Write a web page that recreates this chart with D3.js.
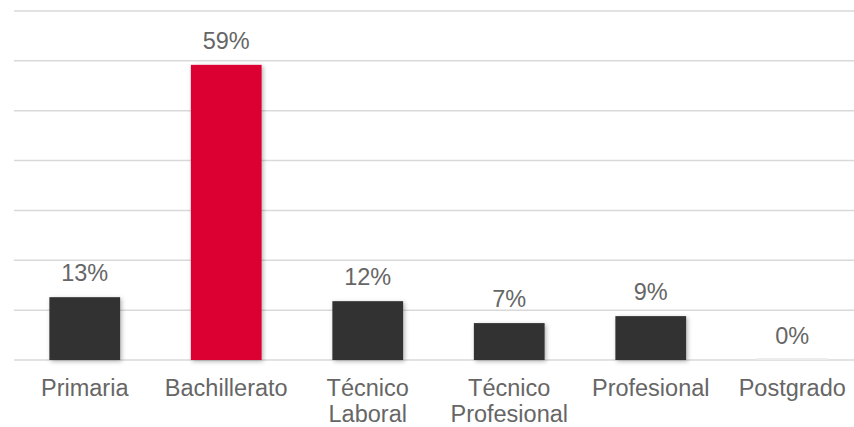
<!DOCTYPE html>
<html>
<head>
<meta charset="utf-8">
<script src="https://cdn.jsdelivr.net/npm/d3@7"></script>
<style>
  html, body { margin: 0; padding: 0; background: #fff; }
  svg { display: block; }
  text { font-family: "Liberation Sans", Arial, sans-serif; fill: #666666; }
</style>
</head>
<body>
<svg id="chart" width="854" height="427"></svg>
<script>
const categories = ["Primaria", "Bachillerato", "Técnico Laboral", "Técnico Profesional", "Profesional", "Postgrado"];
const categoryLines = [["Primaria"], ["Bachillerato"], ["Técnico", "Laboral"], ["Técnico", "Profesional"], ["Profesional"], ["Postgrado"]];
const values = [12.6, 59.2, 11.8, 7.4, 8.8, 0];
const valueLabels = ["13%", "59%", "12%", "7%", "9%", "0%"];
const yTicks = [0, 10, 20, 30, 40, 50, 60, 70];
const highlight = "Bachillerato";

const svg = d3.select("#chart");
const W = 854, H = 427;

const defs = svg.append("defs");
const f = defs.append("filter").attr("id", "shadow").attr("x", "-20%").attr("y", "-20%").attr("width", "150%").attr("height", "150%");
f.append("feDropShadow").attr("dx", 1.5).attr("dy", 1.5).attr("stdDeviation", 2).attr("flood-color", "#000").attr("flood-opacity", 0.3);

const x = d3.scaleBand().domain(categories).range([14, 863]).paddingInner(0.5).paddingOuter(0.25);
const y = d3.scaleLinear().domain([0, 70]).range([360, 11]);

// gridlines
svg.append("g").selectAll("line").data(yTicks).join("line")
  .attr("x1", 14).attr("x2", W)
  .attr("y1", d => y(d)).attr("y2", d => y(d))
  .attr("stroke", "#d9d9d9").attr("stroke-width", 1.5);

// bars
const bars = svg.append("g");
categories.forEach((c, i) => {
  const v = values[i];
  if (v > 0) {
    bars.append("rect")
      .attr("x", x(c)).attr("width", x.bandwidth())
      .attr("y", y(v)).attr("height", y(0) - y(v))
      .attr("fill", c === highlight ? "#dc0032" : "#333333")
      .attr("filter", "url(#shadow)");
  } else {
    bars.append("rect")
      .attr("x", x(c)).attr("width", x.bandwidth())
      .attr("y", y(0) - 2).attr("height", 2)
      .attr("fill", "#ececec");
  }
});

// value labels
svg.append("g").selectAll("text").data(categories).join("text")
  .attr("x", d => x(d) + x.bandwidth() / 2)
  .attr("y", (d, i) => y(values[i]) - 16)
  .attr("text-anchor", "middle")
  .attr("font-size", "23.5px")
  .text((d, i) => valueLabels[i]);

// category labels
const cl = svg.append("g");
categories.forEach((c, i) => {
  const t = cl.append("text")
    .attr("x", x(c) + x.bandwidth() / 2)
    .attr("y", 395.5)
    .attr("text-anchor", "middle")
    .attr("font-size", "23.5px");
  categoryLines[i].forEach((line, j) => {
    t.append("tspan").attr("x", x(c) + x.bandwidth() / 2).attr("dy", j === 0 ? 0 : 26.5).text(line);
  });
});
</script>
</body>
</html>
